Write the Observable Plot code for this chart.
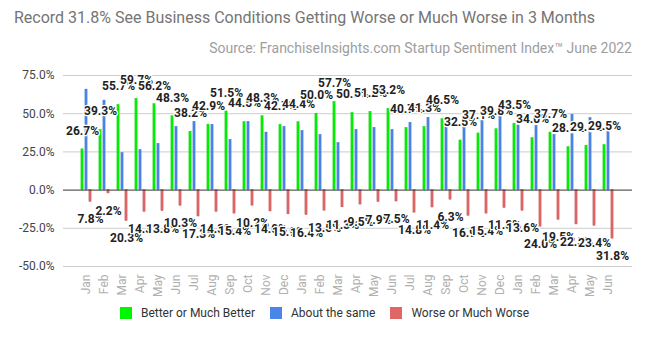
<!DOCTYPE html>
<html><head><meta charset="utf-8">
<script src="https://cdn.jsdelivr.net/npm/d3@7"></script>
<script src="https://cdn.jsdelivr.net/npm/@observablehq/plot@0.6"></script>
<style>
body{margin:0;background:#fff;font-family:Roboto,"Liberation Sans",sans-serif}
#wrap{position:relative;width:649px;height:338px;overflow:hidden;background:#fff}
#chart{position:absolute;left:0;top:0}
#title{position:absolute;left:14px;top:8px;font-size:16px;color:#757575;white-space:nowrap;line-height:20px}
#sub{position:absolute;right:17px;top:39px;font-size:14px;color:#9e9e9e;white-space:nowrap;line-height:18px}
#legend{position:absolute;left:0;top:305px;width:649px;display:flex;justify-content:center;font-size:12px;color:#333;line-height:16px}
.item{display:flex;align-items:center;margin:0 7.5px}
.sw{width:12px;height:12px;margin-right:9px}
</style></head>
<body>
<div id="wrap">
  <div id="chart"></div>
  <div id="title"></div>
  <div id="sub"></div>
  <div id="legend"></div>
</div>
<script>
const titleText = "Record 31.8% See Business Conditions Getting Worse or Much Worse in 3 Months";
const subtitleText = "Source: FranchiseInsights.com Startup Sentiment Index\u2122 June 2022";
const months = ["Jan","Feb","Mar","Apr","May","Jun","Jul","Aug","Sep","Oct","Nov","Dec",
                "Jan","Feb","Mar","Apr","May","Jun","Jul","Aug","Sep","Oct","Nov","Dec",
                "Jan","Feb","Mar","Apr","May","Jun"];
const better = [26.7,39.3,55.7,59.7,56.2,48.3,38.2,42.9,51.5,44.5,48.3,42.7,
                44.4,50.0,57.7,50.5,51.2,53.2,40.7,41.3,46.5,32.5,37.1,39.8,
                43.5,34.0,37.7,28.2,29.1,29.5];
const same   = [65.8,58.6,24.3,26.3,30.3,41.4,44.7,42.8,32.9,44.7,37.7,41.4,
                38.8,36.2,30.9,39.5,40.8,39.5,44.1,47.4,40.8,40.8,45.4,47.8,
                42.3,42.1,36.2,49.3,47.2,38.0];
const worse  = [7.8,2.2,20.3,14.3,13.8,10.3,17.3,14.3,15.4,10.2,14.0,15.9,
                16.4,13.5,11.3,9.5,7.9,7.5,14.8,11.4,6.3,16.9,15.4,11.8,
                13.6,24.0,19.5,22.5,23.4,31.8];
const seriesNames = ["Better or Much Better","About the same","Worse or Much Worse"];
const seriesColors = ["#00f500","#4a86e8","#e06666"];
const yTicks = [-50,-25,0,25,50,75];

const rows = months.map((m,i)=>({i, m, better:better[i], same:same[i], worse:-worse[i], worseAbs:worse[i]}));

const chart = Plot.plot({
  width:649, height:338,
  marginTop:75, marginBottom:72, marginLeft:63, marginRight:17,
  style:{fontFamily:"Roboto, 'Liberation Sans', sans-serif", fontSize:"12px", background:"transparent", overflow:"visible"},
  x:{type:"band", domain:d3.range(months.length), padding:0, insetLeft:2, insetRight:3, axis:null, label:null},
  y:{domain:[-50,75], axis:null, label:null},
  marks:[
    Plot.ruleY(yTicks.filter(t=>t!==0), {stroke:"#cccccc", strokeWidth:1}),
    Plot.barY(rows,{x:"i", y:"better", fill:seriesColors[0], stroke:"#00c800", strokeWidth:0.4, insetLeft:3.9, insetRight:11.9}),
    Plot.barY(rows,{x:"i", y:"same", fill:seriesColors[1], stroke:"#3c70c8", strokeWidth:0.4, insetLeft:7.9, insetRight:7.9}),
    Plot.barY(rows,{x:"i", y:"worse", fill:seriesColors[2], stroke:"#c05050", strokeWidth:0.4, insetLeft:11.9, insetRight:3.9}),
    Plot.ruleY([0], {stroke:"#333", strokeWidth:1}),
    Plot.axisY(yTicks, {tickSize:0, tickPadding:9, tickFormat:d=>d.toFixed(1)+"%", fill:"#444", fontSize:12, label:null}),
    Plot.axisX(d3.range(months.length), {tickSize:0, tickRotate:-90, tickPadding:8, tickFormat:i=>months[i], fill:"#b0b0b0", fontSize:12, label:null}),
    Plot.text(rows,{x:"i", y:"better", text:d=>d.better.toFixed(1)+"%", dx:-4, dy:-18.5, fontWeight:"bold", fontSize:12, fill:"#222", stroke:"white", strokeWidth:2.5}),
    Plot.text(rows,{x:"i", y:"worse", text:d=>d.worseAbs.toFixed(1)+"%", dx:4, dy:17.5, fontWeight:"bold", fontSize:12, fill:"#222", stroke:"white", strokeWidth:2.5})
  ]
});
document.getElementById("chart").appendChild(chart);
document.getElementById("title").textContent = titleText;
document.getElementById("sub").textContent = subtitleText;
const legend = document.getElementById("legend");
seriesNames.forEach((n,k)=>{
  const it = document.createElement("div"); it.className="item";
  const sw = document.createElement("div"); sw.className="sw"; sw.style.background=seriesColors[k];
  const tx = document.createElement("span"); tx.textContent=n;
  it.appendChild(sw); it.appendChild(tx); legend.appendChild(it);
});
</script>
</body></html>
